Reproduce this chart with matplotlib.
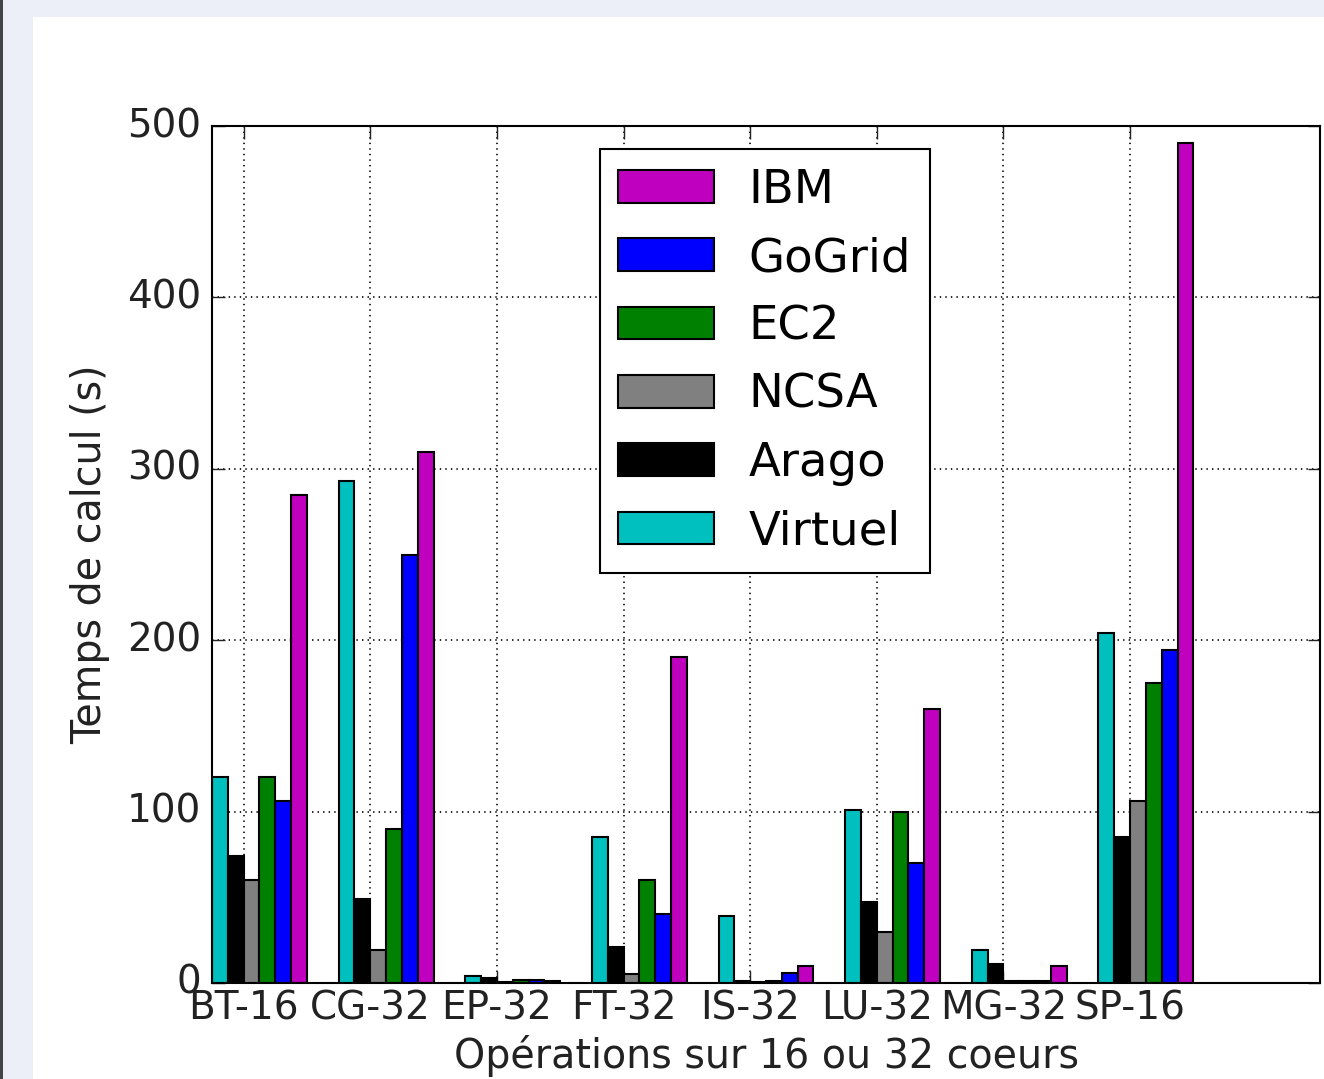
import matplotlib
matplotlib.use('Agg')
import matplotlib.pyplot as plt
from matplotlib.patches import Rectangle

# benchmarks (x axis) and platforms
benchmarks = ['BT-16', 'CG-32', 'EP-32', 'FT-32', 'IS-32', 'LU-32', 'MG-32', 'SP-16']
platforms = ['Virtuel', 'Arago', 'NCSA', 'EC2', 'GoGrid', 'IBM']
colors = ['c', 'k', '#808080', 'g', 'b', 'm']

# temps de calcul (s), one list per platform
virtuel = [120, 293, 4, 85, 39, 101, 19, 204]
arago = [74, 49, 3, 21, 1, 47, 11, 85]
ncsa = [60, 19, 0.5, 5, 0.5, 30, 1, 106]
ec2 = [120, 90, 1.5, 60, 1, 100, 1, 175]
gogrid = [106, 250, 1.5, 40, 6, 70, 1, 194]
ibm = [285, 310, 1, 190, 10, 160, 10, 490]
series = [virtuel, arago, ncsa, ec2, gogrid, ibm]

plt.style.use('classic')
W, H = 1324, 1079
fig = plt.figure(figsize=(W / 100, H / 100), dpi=100, facecolor='#eceff7')

# white panel and dark left edge of the screenshot
fig.add_artist(Rectangle((33 / W, 0), 1 - 33 / W, 1 - 17 / H, transform=fig.transFigure,
                         facecolor='white', edgecolor='none', zorder=-5))
fig.add_artist(Rectangle((0, 0), 3 / W, 1, transform=fig.transFigure,
                         facecolor='#444444', edgecolor='none', zorder=-5))

ax = fig.add_axes([212 / W, 96 / H, 1108 / W, 857 / H])

width = 0.125
bars = []
for j, (vals, col, name) in enumerate(zip(series, colors, platforms)):
    xs = [i + j * width for i in range(len(benchmarks))]
    b = ax.bar(xs, vals, width, align='edge', color=col, edgecolor='k', linewidth=1.5, label=name)
    bars.append(b)

ax.set_xlim(0, 8.75)
ax.set_ylim(0, 500)
ax.set_xticks([i + 0.25 for i in range(len(benchmarks))])
ax.set_xticklabels(benchmarks)
ax.set_yticks([0, 100, 200, 300, 400, 500])
ax.tick_params(labelsize=28, length=9, width=1, pad=8, colors='#222222')
ax.tick_params(axis='x', pad=5)
ax.grid(True, color='k', linestyle=':', linewidth=1.2)
ax.set_axisbelow(True)
for s in ax.spines.values():
    s.set_linewidth(1.5)

ax.set_xlabel('Opérations sur 16 ou 32 coeurs', fontsize=28.5, labelpad=5, color='#222222')
ax.set_ylabel('Temps de calcul (s)', fontsize=28.5, labelpad=12, color='#222222')

leg = ax.legend(bars[::-1], platforms[::-1], loc='upper left', bbox_to_anchor=(0.35, 0.973),
                borderaxespad=0, fontsize=33.5, handlelength=2.05, handleheight=0.7,
                labelspacing=0.5, borderpad=0.4, handletextpad=0.75, fancybox=False)
leg.get_frame().set_linewidth(1.5)

fig.savefig('out.png', dpi=100, facecolor=fig.get_facecolor())
